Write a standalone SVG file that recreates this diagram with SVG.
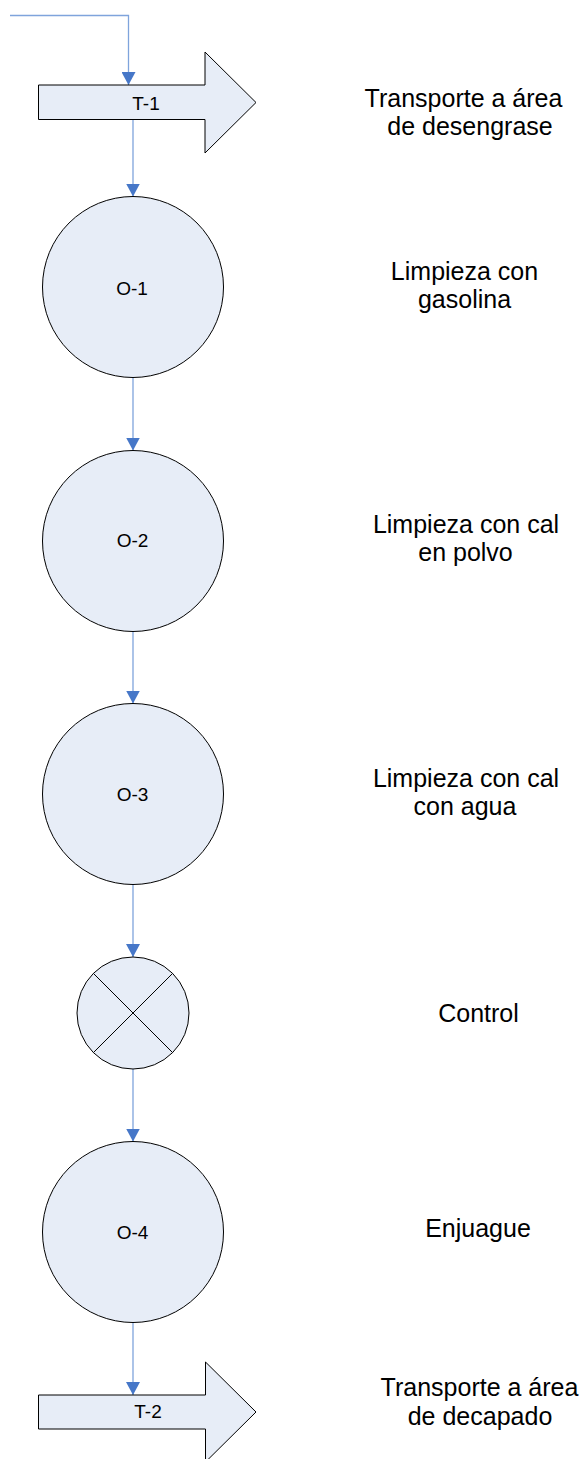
<svg xmlns="http://www.w3.org/2000/svg" width="587" height="1459" viewBox="0 0 587 1459">
  <style>
    .shape { fill: #E7EDF7; stroke: #000000; stroke-width: 1; }
    .mark { fill: none; stroke: #000000; stroke-width: 1; }
    .conn { fill: none; stroke: #7FA4DC; stroke-width: 1.3; }
    .lbl { font-family: "Liberation Sans", Arial, sans-serif; font-size: 19px; fill: #000000; text-anchor: middle; }
    .desc { font-family: "Liberation Sans", Arial, sans-serif; font-size: 25px; fill: #000000; text-anchor: middle; }
  </style>
  <defs>
    <marker id="arrow" markerUnits="userSpaceOnUse" markerWidth="14" markerHeight="14" refX="13" refY="7" orient="auto">
      <path d="M0,0 L13,7 L0,14 Z" fill="#4677C8"/>
    </marker>
  </defs>

  <rect width="587" height="1459" fill="#FFFFFF"/>

  <!-- connectors -->
  <g id="connectors">
    <path class="conn" d="M10,15.5 H128.5 V85" marker-end="url(#arrow)"/>
    <path class="conn" d="M133,119.5 V196.5" marker-end="url(#arrow)"/>
    <path class="conn" d="M133,377.5 V450.5" marker-end="url(#arrow)"/>
    <path class="conn" d="M133,631.5 V703.5" marker-end="url(#arrow)"/>
    <path class="conn" d="M133,884.5 V957" marker-end="url(#arrow)"/>
    <path class="conn" d="M133,1069 V1141.5" marker-end="url(#arrow)"/>
    <path class="conn" d="M133,1322.5 V1395" marker-end="url(#arrow)"/>
  </g>

  <!-- transport T-1 -->
  <g id="T-1">
    <polygon class="shape" points="38.5,85 205,85 205,52 256,102.5 205,153 205,119.5 38.5,119.5"/>
    <text class="lbl" x="146" y="109.5">T-1</text>
  </g>

  <!-- operation O-1 -->
  <g id="O-1">
    <circle class="shape" cx="133" cy="287" r="90.5"/>
    <text class="lbl" x="132" y="295">O-1</text>
  </g>

  <!-- operation O-2 -->
  <g id="O-2">
    <circle class="shape" cx="133" cy="541" r="90.5"/>
    <text class="lbl" x="132.5" y="547">O-2</text>
  </g>

  <!-- operation O-3 -->
  <g id="O-3">
    <circle class="shape" cx="133" cy="794" r="90.5"/>
    <text class="lbl" x="132.5" y="800.5">O-3</text>
  </g>

  <!-- inspection / control -->
  <g id="control">
    <circle class="shape" cx="133" cy="1013" r="56"/>
    <line class="mark" x1="93.4" y1="973.4" x2="172.6" y2="1052.6"/>
    <line class="mark" x1="172.6" y1="973.4" x2="93.4" y2="1052.6"/>
  </g>

  <!-- operation O-4 -->
  <g id="O-4">
    <circle class="shape" cx="133" cy="1232" r="90.5"/>
    <text class="lbl" x="132.5" y="1239">O-4</text>
  </g>

  <!-- transport T-2 -->
  <g id="T-2">
    <polygon class="shape" points="38.5,1395 205.5,1395 205.5,1362 256,1412 205.5,1462 205.5,1429 38.5,1429"/>
    <text class="lbl" x="148" y="1418">T-2</text>
  </g>

  <!-- step descriptions -->
  <g id="descriptions">
    <text class="desc" x="463.5" y="107">Transporte a área</text>
    <text class="desc" x="470" y="135">de desengrase</text>

    <text class="desc" x="464.5" y="279.5">Limpieza con</text>
    <text class="desc" x="464.5" y="307.5">gasolina</text>

    <text class="desc" x="466" y="533">Limpieza con cal</text>
    <text class="desc" x="465.5" y="561">en polvo</text>

    <text class="desc" x="466" y="786.5">Limpieza con cal</text>
    <text class="desc" x="465" y="814.5">con agua</text>

    <text class="desc" x="478.5" y="1022">Control</text>

    <text class="desc" x="478" y="1237">Enjuague</text>

    <text class="desc" x="479.5" y="1396">Transporte a área</text>
    <text class="desc" x="480" y="1425">de decapado</text>
  </g>
</svg>
